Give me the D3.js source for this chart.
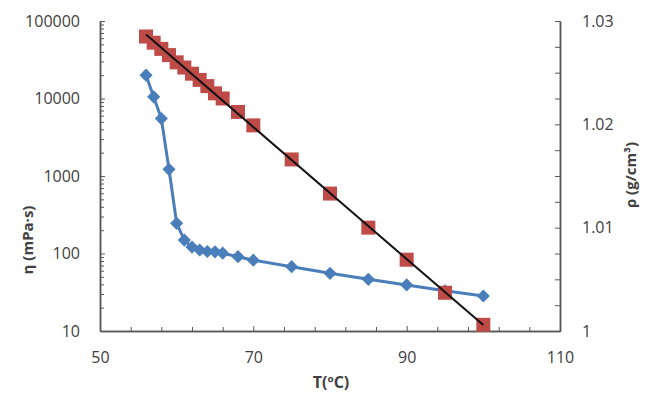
<!DOCTYPE html>
<html>
<head>
<meta charset="utf-8">
<script src="https://cdnjs.cloudflare.com/ajax/libs/d3/7.8.5/d3.min.js"></script>
<style>
  body { margin: 0; background: #fff; }
  svg text { font-family: "Open Sans", "Liberation Sans", sans-serif; fill: #404040; }
</style>
</head>
<body>
<div class="content"></div>
<script>
const SVG_W = 649;
const SVG_H = 395;

// viscosity (left, log axis)
const visc_temp = [56, 57, 58, 59, 60, 61, 62, 63, 64, 65, 66, 68, 70, 75, 80, 85, 90, 95, 100];
const visc_value = [20000, 10500, 5500, 1220, 245, 149, 121, 111, 106, 105, 101, 91, 82, 67.6, 55.5, 46.4, 39.3, 33, 28.3];

// density (right axis)
const dens_temp = [56, 57, 58, 59, 60, 61, 62, 63, 64, 65, 66, 68, 70, 75, 80, 85, 90, 95, 100];
const dens_value = [1.0285, 1.0279, 1.0273, 1.0267, 1.0260, 1.0255, 1.0249, 1.0243, 1.0237, 1.0230, 1.0225, 1.0212, 1.0199, 1.0166, 1.0133, 1.0100, 1.0069, 1.0037, 1.0006];

// tick labels
const x_ticks = [50, 70, 90, 110];
const x_minor = [54, 58, 62, 66, 74, 78, 82, 86, 94, 98, 102, 106];
const yl_ticks = [10, 100, 1000, 10000, 100000];
const yr_ticks = [1, 1.01, 1.02, 1.03];
const yr_minor = [1.0025, 1.005, 1.0075, 1.0125, 1.015, 1.0175, 1.0225, 1.025, 1.0275];

const svg = d3.select(".content").append("svg").attr("width", SVG_W).attr("height", SVG_H);

const xscale = d3.scaleLinear().domain([50, 110]).range([100, 560]);
const yleft = d3.scaleLog().domain([10, 100000]).range([331, 21]);
const yright = d3.scaleLinear().domain([1, 1.03]).range([331, 21]);

// minor ticks for log axis (2..9 in each decade)
let yl_minor = [];
for (let d = 10; d < 100000; d *= 10) {
    for (let k = 2; k < 10; k++) yl_minor.push(d * k);
}

const axisColor = "#595959";
function styleAxis(g) {
    g.selectAll("path.domain").attr("stroke", axisColor).attr("stroke-width", 1.5);
    g.selectAll(".tick line").attr("stroke", axisColor).attr("stroke-width", 1);
    g.selectAll(".tick text").attr("fill", "#404040").style("font-size", "16px");
}

// x axis
svg.append("g").attr("transform", "translate(0,331)")
    .call(d3.axisBottom(xscale).tickValues(x_minor).tickSizeInner(-4).tickSizeOuter(0).tickFormat(""))
    .call(styleAxis);
svg.append("g").attr("transform", "translate(0,331)")
    .call(d3.axisBottom(xscale).tickValues(x_ticks).tickSizeInner(-5).tickSizeOuter(0).tickPadding(21))
    .call(styleAxis);

// left axis
svg.append("g").attr("transform", "translate(100,0)")
    .call(d3.axisLeft(yleft).tickValues(yl_minor).tickSizeInner(-4).tickSizeOuter(0).tickFormat(""))
    .call(styleAxis);
svg.append("g").attr("transform", "translate(100,0)")
    .call(d3.axisLeft(yleft).tickValues(yl_ticks).tickSizeInner(-5).tickSizeOuter(0).tickPadding(20).tickFormat(d3.format("d")))
    .call(styleAxis);

// right axis
svg.append("g").attr("transform", "translate(560,0)")
    .call(d3.axisRight(yright).tickValues(yr_minor).tickSizeInner(-5).tickSizeOuter(0).tickFormat(""))
    .call(styleAxis);
svg.append("g").attr("transform", "translate(560,0)")
    .call(d3.axisRight(yright).tickValues(yr_ticks).tickSizeInner(-5).tickSizeOuter(0).tickPadding(22)
        .tickFormat(d => d === 1 ? "1" : d.toFixed(2)))
    .call(styleAxis);

// viscosity series
const visc = visc_temp.map((t, i) => ({ t: t, v: visc_value[i] }));
svg.append("path").datum(visc)
    .attr("fill", "none").attr("stroke", "#4a7ebb").attr("stroke-width", 3)
    .attr("d", d3.line().x(d => xscale(d.t)).y(d => yleft(d.v)));
svg.append("g").selectAll("path")
    .data(visc).join("path")
    .attr("d", d3.symbol().type(d3.symbolDiamond2).size(110))
    .attr("transform", d => "translate(" + xscale(d.t) + "," + yleft(d.v) + ")")
    .attr("fill", "#4a7ebb");

// density series
const dens = dens_temp.map((t, i) => ({ t: t, v: dens_value[i] }));
svg.append("g").selectAll("rect")
    .data(dens).join("rect")
    .attr("x", d => xscale(d.t) - 7).attr("y", d => yright(d.v) - 7)
    .attr("width", 14).attr("height", 14)
    .attr("fill", "#be4b48");

// linear trend line for density
const mt = d3.mean(dens, d => d.t), mv = d3.mean(dens, d => d.v);
const slope = d3.sum(dens, d => (d.t - mt) * (d.v - mv)) / d3.sum(dens, d => (d.t - mt) * (d.t - mt));
const icpt = mv - slope * mt;
const tr = d3.extent(dens_temp);
svg.append("line")
    .attr("x1", xscale(tr[0])).attr("y1", yright(icpt + slope * tr[0]))
    .attr("x2", xscale(tr[1])).attr("y2", yright(icpt + slope * tr[1]))
    .attr("stroke", "#111").attr("stroke-width", 2);

// axis titles
svg.append("text").attr("x", 331).attr("y", 388).attr("text-anchor", "middle")
    .style("font-size", "16px").style("font-weight", "bold").text("T(ºC)");
svg.append("text").attr("transform", "translate(33,240) rotate(-90)").attr("text-anchor", "middle")
    .style("font-size", "15px").style("font-weight", "bold").text("η (mPa·s)");
svg.append("text").attr("transform", "translate(636,175) rotate(-90)").attr("text-anchor", "middle")
    .style("font-size", "15px").style("font-weight", "bold").text("ρ (g/cm³)");
</script>
</body>
</html>
